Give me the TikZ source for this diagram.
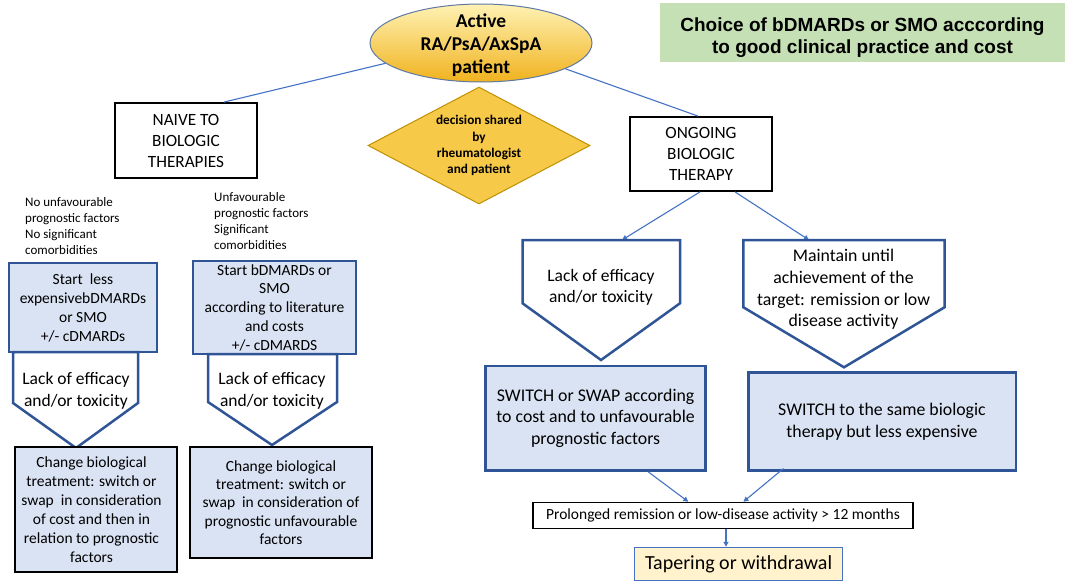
\documentclass[tikz,border=0pt]{standalone}
\usepackage{fontspec}
\setmainfont{Carlito}
\newfontfamily\arialfont{Liberation Sans}
\usetikzlibrary{shapes.geometric,arrows.meta,calc}
\definecolor{boxfill}{RGB}{218,227,243}
\definecolor{boxedge}{RGB}{47,85,151}
\definecolor{conn}{RGB}{68,114,196}
\definecolor{goldfill}{RGB}{247,201,72}
\definecolor{goldedge}{RGB}{191,144,0}
\definecolor{greenfill}{RGB}{197,224,180}
\definecolor{tapfill}{RGB}{255,242,204}
\definecolor{elltop}{RGB}{255,242,180}
\definecolor{ellbot}{RGB}{240,178,30}
\definecolor{elledge}{RGB}{95,120,165}
\begin{document}
\begin{tikzpicture}[x=1pt,y=-1pt,
  bluebox/.style={draw=boxedge,fill=boxfill,line width=2.5pt,align=center,inner sep=0pt},
  changebox/.style={draw=black,fill=boxfill,line width=2.5pt,align=center,inner sep=0pt},
  blackbox/.style={draw=black,fill=white,line width=1.8pt,align=center,inner sep=0pt},
  pentagon/.style={draw=boxedge,fill=white,line width=2.5pt,line join=miter},
  link/.style={draw=conn,line width=1.1pt},
  arrowlink/.style={link,-{Triangle[length=5pt,width=5pt]}},
  txt/.style={align=center,inner sep=0pt},
  fbox/.style={font=\fontsize{15.5}{19}\selectfont},
  fhead/.style={font=\fontsize{17.2}{21}\selectfont},
  fright/.style={font=\fontsize{17.8}{21.7}\selectfont}]
\useasboundingbox (0,0) rectangle (1069,581);

% top
\node[ellipse, draw=elledge, line width=1pt, top color=elltop, bottom color=ellbot,
      minimum width=222pt, minimum height=78pt, inner sep=0pt] (active) at (481,43) {};
\node[txt, font=\bfseries\fontsize{19.5}{23}\selectfont] (activetxt) at (481,45) {Active\\RA/PsA/AxSpA\\patient};

\node[fill=greenfill, minimum width=405pt, minimum height=59pt, inner sep=0pt] (choicebox) at (862.5,32.5) {};
\node[txt, font=\arialfont\bfseries\fontsize{19}{22}\selectfont] (choicetxt) at (862.5,37.5)
  {Choice of bDMARDs or SMO acccording\\to good clinical practice and cost};

\node[blackbox, fhead, minimum width=142pt, minimum height=75pt] (naive) at (186,140.5) {NAIVE TO\\BIOLOGIC\\THERAPIES};
\node[blackbox, fhead, minimum width=142pt, minimum height=74pt] (ongoing) at (701,154) {ONGOING\\BIOLOGIC\\THERAPY};

\node[diamond, draw=goldedge, fill=goldfill, line width=1pt, minimum width=222pt, minimum height=117pt,
      inner sep=0pt, aspect=1.9, align=center, font=\bfseries\fontsize{13.3}{16.2}\selectfont] (decision) at (479,145.5)
  {decision shared\\by\\rheumatologist\\and patient};

\draw[link] (active.192) -- ($(naive.north east)+(-34,0)$);
\draw[link] (active.343) -- ($(ongoing.north)+(-3,0)$);

% annotations
\node[anchor=west, align=left, inner sep=0pt, font=\fontsize{13}{16}\selectfont] (nofactors) at (25,226)
  {No unfavourable\\prognostic factors\\No significant\\comorbidities};
\node[anchor=west, align=left, inner sep=0pt, font=\fontsize{13}{16}\selectfont] (factors) at (214,221)
  {Unfavourable\\prognostic factors\\Significant\\comorbidities};

% left column
\node[bluebox, fbox, minimum width=148pt, minimum height=89pt] (start1) at (83,307.5)
  {Start\ \ less\\expensivebDMARDs\\or SMO\\+/- cDMARDs};
\draw[pentagon] (13,352) -- (13,403) -- (76,448) -- (138,403) -- (138,352) -- cycle;
\node[txt, font=\fontsize{17.5}{22}\selectfont] (lack1) at (76,391) {Lack of efficacy\\and/or toxicity};
\node[changebox, minimum width=162pt, minimum height=125pt] (change1) at (96,509.5) {};
\node[txt, fbox] (change1txt) at (91.5,510)
  {Change biological\\treatment: switch or\\swap\ \ in consideration\\of cost and then in\\relation to prognostic\\factors};

% middle column
\node[bluebox, font=\fontsize{15.5}{18.75}\selectfont, minimum width=163pt, minimum height=93pt] (start2) at (274.5,307.5)
  {Start bDMARDs or\\SMO\\according to literature\\and costs\\+/- cDMARDS};
\draw[pentagon] (208,354) -- (208,402) -- (272,445) -- (337,402) -- (337,354) -- cycle;
\node[txt, font=\fontsize{17.5}{22}\selectfont] (lack2) at (272,391) {Lack of efficacy\\and/or toxicity};
\node[changebox, font=\fontsize{15.5}{18.3}\selectfont, minimum width=182pt, minimum height=111pt] (change2) at (281,502.5)
  {Change biological\\treatment: switch or\\swap\ \ in consideration of\\prognostic unfavourable\\factors};

% right side
\coordinate (p3top) at (622,240);
\coordinate (p4top) at (809,240);
\draw[arrowlink] ($(ongoing.south)+(-1,0)$) -- (p3top);
\draw[arrowlink] ($(ongoing.south)+(34,0)$) -- (p4top);

\draw[pentagon] (522.5,240) -- (522.5,303.3) -- (601,360) -- (680,303.3) -- (680,240) -- cycle;
\node[txt, font=\fontsize{17.5}{21.3}\selectfont] (lack3) at (601,287) {Lack of efficacy\\and/or toxicity};
\draw[pentagon] (743.4,240) -- (743.4,307.3) -- (844,367.3) -- (944.5,307.3) -- (944.5,240) -- cycle;
\node[txt, fright] (maintain) at (843.5,289.5)
  {Maintain until\\achievement of the\\target: remission or low\\disease activity};

\node[bluebox, fright, minimum width=220pt, minimum height=104.7pt] (switchswap) at (595.6,418.3)
  {SWITCH or SWAP according\\to cost and to unfavourable\\prognostic factors};
\node[bluebox, fright, minimum width=267.5pt, minimum height=98pt] (switchsame) at (882,421.7)
  {SWITCH to the same biologic\\therapy but less expensive};

\node[blackbox, line width=1.5pt, font=\fontsize{15.5}{18}\selectfont, minimum width=380pt, minimum height=26pt] (prolonged) at (723,515.5)
  {Prolonged remission or low-disease activity > 12 months};
\draw[arrowlink] ($(switchswap.south)+(52.7,0)$) -- ($(prolonged.north)+(-34.7,0)$);
\draw[arrowlink] ($(switchsame.south)+(-98.6,-3.4)$) -- ($(prolonged.north)+(20.4,0)$);

\node[draw=conn, fill=tapfill, line width=1.5pt, inner sep=0pt, font=\fontsize{20}{24}\selectfont,
      minimum width=208pt, minimum height=33pt] (tapering) at (738.6,564) {Tapering or withdrawal};
\draw[arrowlink] ($(prolonged.south)+(3,0)$) -- ($(tapering.north)+(-12.6,0)$);
\end{tikzpicture}
\end{document}
